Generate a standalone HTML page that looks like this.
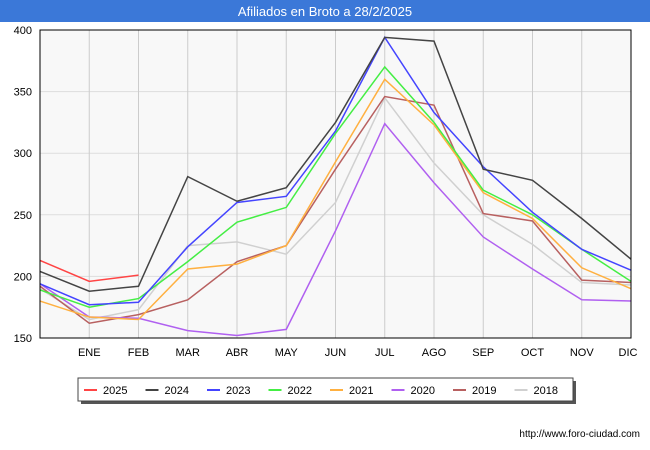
<!DOCTYPE html>
<html><head><meta charset="utf-8"><style>
body{margin:0;background:#fff;font-family:"Liberation Sans",sans-serif;}
svg{display:block}
</style></head><body>
<svg id="c" width="650" height="450" xmlns="http://www.w3.org/2000/svg">
<rect x="0" y="0" width="650" height="22" fill="#3b78d8"/>
<text x="325" y="16" text-anchor="middle" fill="#fff" font-size="13" font-family="Liberation Sans, sans-serif">Afiliados en Broto a 28/2/2025</text>
<rect x="40" y="30" width="591" height="308" fill="#f8f8f8"/>
<g id="grid"></g><g id="series"></g><g id="axes"></g>
<text x="640" y="437" text-anchor="end" font-size="10" fill="#000" font-family="Liberation Sans, sans-serif">http://www.foro-ciudad.com</text>
</svg>
<script>
const months=["","ENE","FEB","MAR","ABR","MAY","JUN","JUL","AGO","SEP","OCT","NOV","DIC"];
const yTicks=[150,200,250,300,350,400];
const years=["2025","2024","2023","2022","2021","2020","2019","2018"];
const colors=["#ff4444","#444444","#4444ff","#44ee44","#ffb040","#b060f0","#b86060","#d0d0d0"];
const s2025=[213,196,201];
const s2024=[204,188,192,281,261,272,325,394,391,287,278,247,214];
const s2023=[194,177,179,224,260,265,318,394,333,289,252,222,205];
const s2022=[189,175,182,212,244,256,316,370,325,270,250,222,196];
const s2021=[180,167,165,206,210,225,293,360,323,268,247,207,190];
const s2020=[194,167,166,156,152,157,237,324,276,232,206,181,180];
const s2019=[192,162,169,181,212,225,287,346,339,251,245,197,195];
const s2018=[190,165,173,225,228,218,260,345,292,250,226,195,193];
const allSeries=[s2025,s2024,s2023,s2022,s2021,s2020,s2019,s2018];
const NS="http://www.w3.org/2000/svg";
const X=i=>40+i*(591/12);
const Y=v=>338-(v-150)*(308/250);
function mk(t,a,p){const e=document.createElementNS(NS,t);for(const k in a)e.setAttribute(k,a[k]);p.appendChild(e);return e;}
const grid=document.getElementById('grid'),axes=document.getElementById('axes'),ser=document.getElementById('series');
yTicks.forEach(v=>{
 const l=mk('line',{x1:40,x2:631,y1:Y(v),y2:Y(v),stroke:'#dddddd','stroke-width':1},grid);
 
 
 const t=mk('text',{x:32,y:Y(v)+4,'text-anchor':'end','font-size':11,fill:'#000','font-family':'Liberation Sans, sans-serif'},axes);
 t.textContent=v;
 
 
});
months.forEach((m,i)=>{
 if(i>0){
 const l=mk('line',{x1:X(i),x2:X(i),y1:30,y2:338,stroke:'#cccccc','stroke-width':1},grid);
 
 
 const t=mk('text',{x:X(i)-(i==12?3:0),y:356,'text-anchor':'middle','font-size':11,fill:'#000','font-family':'Liberation Sans, sans-serif'},axes);
 t.textContent=m;
 
 
 }
});
const fr=mk('rect',{x:40,y:30,width:591,height:308,fill:'none',stroke:'#000','stroke-width':1},axes);


for(let k=allSeries.length-1;k>=0;k--){
 const pts=allSeries[k].map((v,i)=>X(i)+','+Y(v)).join(' ');
 const p=mk('polyline',{points:pts,fill:'none',stroke:colors[k],'stroke-width':1.5},ser);
 
 
}
// legend
const svg=document.getElementById('c');
const lg=mk('g',{},svg);


mk('rect',{x:81,y:381,width:495,height:23,fill:'#555'},lg);
mk('rect',{x:78,y:378,width:495,height:23,fill:'#fff',stroke:'#444','stroke-width':1},lg);
years.forEach((y,k)=>{
 const x0=84+k*61.5;
 const g=mk('g',{},lg);
 
 
 mk('line',{x1:x0,x2:x0+13,y1:390,y2:390,stroke:colors[k],'stroke-width':2},g);
 const t=mk('text',{x:x0+19,y:394,'font-size':11,fill:'#000','font-family':'Liberation Sans, sans-serif'},g);
 t.textContent=y;
});
</script>
</body></html>
